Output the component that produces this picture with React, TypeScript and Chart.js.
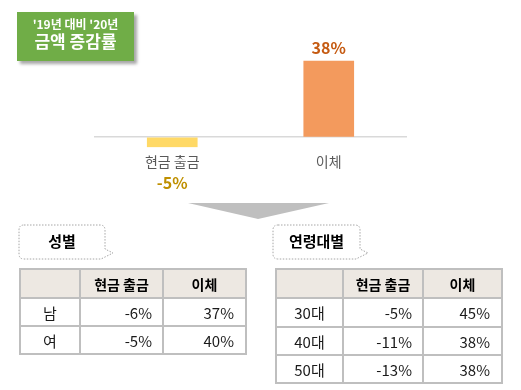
import React, { useEffect, useRef } from "react";
import { Chart, registerables } from "chart.js";

Chart.register(...registerables);

// ---- data ----
const categories = ["현금 출금", "이체"];
const changeValues = [-5, 38];
const titleLine1 = "'19년 대비 '20년";
const titleLine2 = "금액 증감률";

const tableHeaders = ["현금 출금", "이체"];
const genderTitle = "성별";
const genderRows = ["남", "여"];
const genderCash = [-6, -5];
const genderTransfer = [37, 40];

const ageTitle = "연령대별";
const ageRows = ["30대", "40대", "50대"];
const ageCash = [-5, -11, -13];
const ageTransfer = [45, 38, 38];

// ---- styles ----
const FONT = "'Noto Sans CJK KR', 'Noto Sans', sans-serif";
const barColors = ["#ffd966", "#f39a5d"];
const labelColors = ["#bf9000", "#c55a11"];

const pct = (v: number) => `${v}%`;

function ChartCanvas() {
  const ref = useRef<HTMLCanvasElement | null>(null);
  useEffect(() => {
    if (!ref.current) return;
    const valueLabelPlugin = {
      id: "valueLabels",
      afterDatasetsDraw(chart: any) {
        const { ctx, scales, chartArea } = chart;
        const x = scales.x;
        const y = scales.y;
        ctx.save();
        ctx.font = `bold 16px ${FONT}`;
        ctx.textAlign = "center";
        ctx.textBaseline = "middle";
        changeValues.forEach((v, i) => {
          const px = x.getPixelForValue(i);
          ctx.fillStyle = labelColors[i];
          if (v >= 0) {
            ctx.fillText(pct(v), px, y.getPixelForValue(v) - 13);
          } else {
            ctx.fillText(pct(v), px, chartArea.bottom + 36);
          }
        });
        ctx.restore();
      },
    };
    const chart = new Chart(ref.current, {
      type: "bar",
      data: {
        labels: categories,
        datasets: [
          {
            data: changeValues,
            backgroundColor: barColors,
            barThickness: 50,
          },
        ],
      },
      options: {
        responsive: false,
        animation: false,
        events: [],
        layout: { padding: { left: 94, right: 114, top: 57, bottom: 24 } },
        plugins: { legend: { display: false }, tooltip: { enabled: false } },
        scales: {
          x: {
            grid: { display: false, drawTicks: false },
            border: { display: false },
            ticks: {
              color: "#595959",
              padding: 6,
              font: { family: FONT, size: 14 },
            },
          },
          y: {
            min: -5,
            max: 40,
            grid: {
              drawTicks: false,
              color: (c: any) => (c.tick && c.tick.value === 0 ? "#d9d9d9" : "rgba(0,0,0,0)"),
              lineWidth: 1.5,
            },
            border: { display: false },
            ticks: { display: false, stepSize: 5 },
          },
        },
      },
      plugins: [valueLabelPlugin],
    });
    return () => chart.destroy();
  }, []);
  return (
    <canvas
      ref={ref}
      width={521}
      height={200}
      style={{ position: "absolute", left: 0, top: 0, width: 521, height: 200 }}
    />
  );
}

function Callout({ x0, y0, x1, y1, text }: { x0: number; y0: number; x1: number; y1: number; text: string }) {
  const r = 5;
  const d = `M ${x0 + r} ${y0} H ${x1 - r} Q ${x1} ${y0} ${x1} ${y0 + r} V ${y1 - 10} L ${x1 + 8} ${y1 - 6} L ${x1 - 4} ${y1} H ${x0 + r} Q ${x0} ${y1} ${x0} ${y1 - r} V ${y0 + r} Q ${x0} ${y0} ${x0 + r} ${y0} Z`;
  return (
    <g>
      <path d={d} fill="#fff" stroke="#a6a6a6" strokeWidth={1} strokeDasharray="1.5 1.5" />
      <text
        x={(x0 + x1) / 2}
        y={(y0 + y1) / 2 + 1}
        textAnchor="middle"
        dominantBaseline="middle"
        fontFamily={FONT}
        fontWeight="bold"
        fontSize={15}
        fill="#000"
      >
        {text}
      </text>
    </g>
  );
}

function DataTable({
  left,
  top,
  colWidths,
  rowHeights,
  rows,
  cash,
  transfer,
}: {
  left: number;
  top: number;
  colWidths: number[];
  rowHeights: number[];
  rows: string[];
  cash: number[];
  transfer: number[];
}) {
  const border = "2px solid #bfbfbf";
  const cell: React.CSSProperties = {
    border,
    padding: 0,
    fontSize: 15,
    color: "#1a1a1a",
    fontFamily: FONT,
    boxSizing: "border-box",
  };
  return (
    <table
      style={{
        position: "absolute",
        left,
        top,
        borderCollapse: "collapse",
        tableLayout: "fixed",
        width: colWidths.reduce((a, b) => a + b, 0),
      }}
    >
      <colgroup>
        {colWidths.map((w, i) => (
          <col key={i} style={{ width: w }} />
        ))}
      </colgroup>
      <tbody>
        <tr style={{ height: rowHeights[0] }}>
          <td style={{ ...cell, background: "#ede8e2" }} />
          {tableHeaders.map((h) => (
            <td
              key={h}
              style={{ ...cell, fontSize: 14, background: "#ede8e2", fontWeight: "bold", textAlign: "center", color: "#000" }}
            >
              {h}
            </td>
          ))}
        </tr>
        {rows.map((r, i) => (
          <tr key={r} style={{ height: rowHeights[i + 1] }}>
            <td style={{ ...cell, textAlign: "center" }}>{r}</td>
            <td style={{ ...cell, textAlign: "right", paddingRight: 10 }}>{pct(cash[i])}</td>
            <td style={{ ...cell, textAlign: "right", paddingRight: 11 }}>{pct(transfer[i])}</td>
          </tr>
        ))}
      </tbody>
    </table>
  );
}

export default function App() {
  return (
    <div
      style={{
        position: "fixed",
        left: 0,
        top: 0,
        width: 521,
        height: 390,
        background: "#fff",
        fontFamily: FONT,
        overflow: "hidden",
      }}
    >
      <ChartCanvas />
      <div
        style={{
          position: "absolute",
          left: 17,
          top: 12,
          width: 117,
          height: 49,
          background: "#70ad47",
          boxShadow: "3px 3px 3px rgba(0,0,0,0.35)",
          color: "#fff",
          textAlign: "center",
          fontWeight: "bold",
        }}
      >
        <div style={{ fontSize: 12, lineHeight: "14px", marginTop: 5 }}>{titleLine1}</div>
        <div style={{ fontSize: 17, lineHeight: "20px", marginTop: 0 }}>{titleLine2}</div>
      </div>
      <svg
        width={521}
        height={390}
        style={{ position: "absolute", left: 0, top: 0 }}
      >
        <polygon points="188,203 329,203 258,219" fill="#bfbfbf" />
        <Callout x0={19} y0={225} x1={105} y1={259} text={genderTitle} />
        <Callout x0={273} y0={225} x1={360} y1={259} text={ageTitle} />
      </svg>
      <DataTable
        left={19}
        top={268}
        colWidths={[60, 83, 83]}
        rowHeights={[29, 28, 28]}
        rows={genderRows}
        cash={genderCash}
        transfer={genderTransfer}
      />
      <DataTable
        left={275}
        top={268}
        colWidths={[67, 80, 79]}
        rowHeights={[29, 29, 28, 28]}
        rows={ageRows}
        cash={ageCash}
        transfer={ageTransfer}
      />
    </div>
  );
}
